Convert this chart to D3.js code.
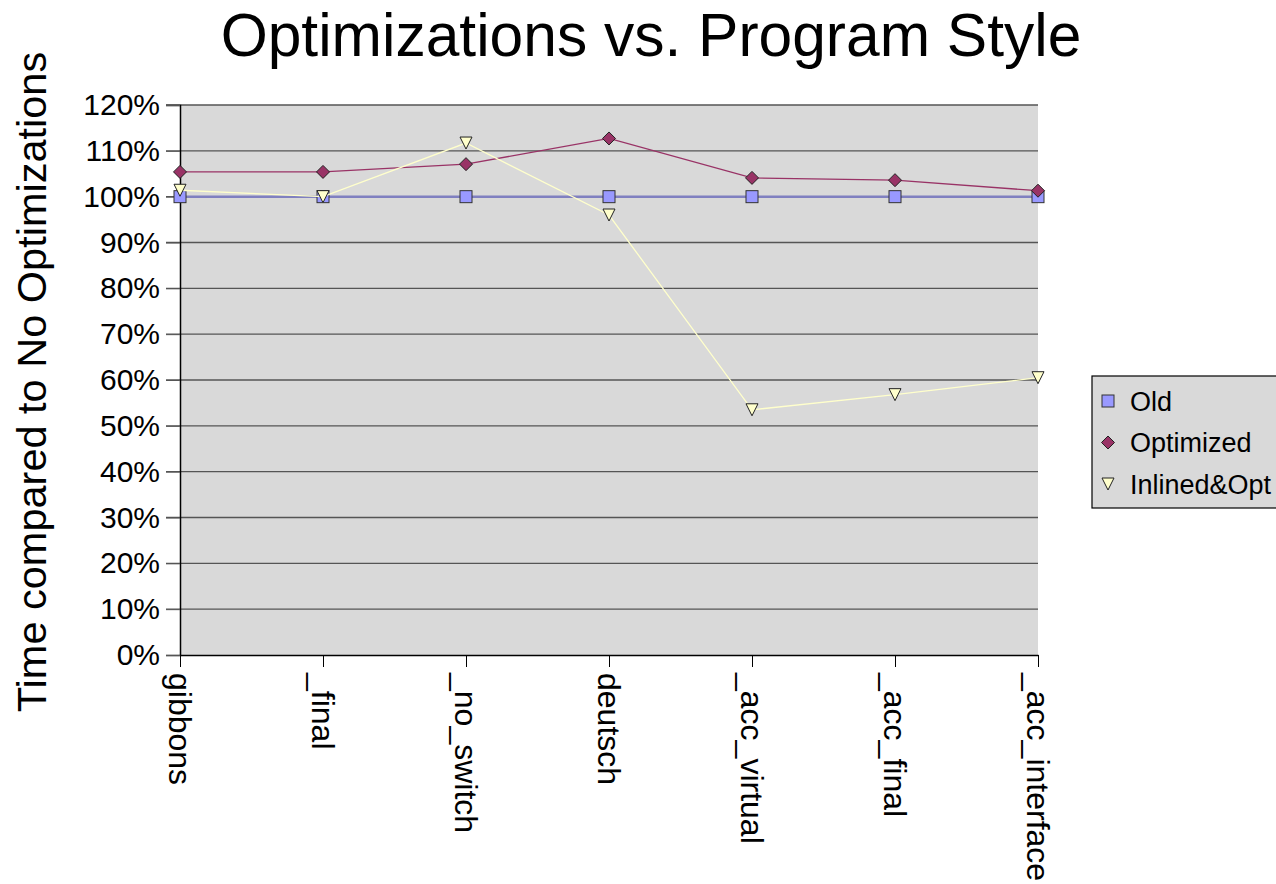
<!DOCTYPE html>
<html><head><meta charset="utf-8">
<script src="https://cdn.jsdelivr.net/npm/d3@7"></script>
<style>body{margin:0;background:#fff}svg{display:block}text{font-family:"Liberation Sans",Arial,sans-serif}</style>
</head><body>
<script>
const categories = ["gibbons","_final","_no_switch","deutsch","_acc_virtual","_acc_final","_acc_interface"];
const oldVals = [100,100,100,100,100,100,100];
const optimizedVals = [105.4,105.4,107.1,112.7,104.1,103.6,101.3];
const inlinedVals = [101.4,100.0,111.7,96.0,53.5,56.8,60.5];
const yTicks = [0,10,20,30,40,50,60,70,80,90,100,110,120];
const seriesNames = ["Old","Optimized","Inlined&Opt"];

const W=1276,H=884;
const svg=d3.select("body").append("svg").attr("width",W).attr("height",H);
const x=d3.scalePoint().domain(categories).range([180,1038]);
const y=d3.scaleLinear().domain([0,120]).range([655,105]);

svg.append("rect").attr("x",180).attr("y",105).attr("width",858).attr("height",550).attr("fill","#d9d9d9");
svg.selectAll(".grid").data(yTicks.filter(d=>d>0)).enter().append("line")
  .attr("x1",166).attr("x2",1038).attr("y1",d=>y(d)).attr("y2",d=>y(d))
  .attr("stroke","#555").attr("stroke-width",1.3);

const yAxis=svg.append("g").attr("transform","translate(180,0)")
  .call(d3.axisLeft(y).tickValues(yTicks).tickFormat(d=>d+"%").tickSize(14).tickPadding(6));
yAxis.select(".domain").attr("stroke","#000").attr("stroke-width",1.5);
yAxis.selectAll("text").attr("font-size",30).attr("fill","#000").attr("font-family","Liberation Sans, Arial, sans-serif");
yAxis.selectAll("line").attr("stroke","#555");

const xAxis=svg.append("g").attr("transform","translate(0,655)")
  .call(d3.axisBottom(x).tickSize(12).tickSizeOuter(0));
xAxis.select(".domain").attr("stroke","#000").attr("stroke-width",1.5);
xAxis.selectAll("line").attr("stroke","#000");
xAxis.selectAll("text").attr("font-size",32).attr("fill","#000")
  .attr("font-family","Liberation Sans, Arial, sans-serif")
  .attr("transform","rotate(90)").attr("text-anchor","start")
  .attr("x",18).attr("y",0).attr("dy","0.35em");

const series=[
 {name:seriesNames[0],vals:oldVals,line:"#8080c0",fill:"#9999ff",w:2.5,shape:"sq"},
 {name:seriesNames[1],vals:optimizedVals,line:"#993366",fill:"#993366",w:1.3,shape:"di"},
 {name:seriesNames[2],vals:inlinedVals,line:"#ffffcc",fill:"#ffffcc",w:1.3,shape:"tri"}
];
function marker(g,shape,fill,cx,cy){
  if(shape==="sq") g.append("rect").attr("x",cx-6).attr("y",cy-6).attr("width",12).attr("height",12).attr("fill",fill).attr("stroke","#333").attr("stroke-width",1);
  else if(shape==="di") g.append("path").attr("d",`M${cx},${cy-6.5}L${cx+6.5},${cy}L${cx},${cy+6.5}L${cx-6.5},${cy}Z`).attr("fill",fill).attr("stroke","#222").attr("stroke-width",1);
  else g.append("path").attr("d",`M${cx-6},${cy-6}L${cx+6},${cy-6}L${cx},${cy+6}Z`).attr("fill",fill).attr("stroke","#222").attr("stroke-width",1);
}
const line=d3.line().x((d,i)=>x(categories[i])).y(d=>y(d));
series.forEach(s=>{
  svg.append("path").attr("d",line(s.vals)).attr("fill","none").attr("stroke",s.line).attr("stroke-width",s.w);
  const g=svg.append("g");
  s.vals.forEach((v,i)=>marker(g,s.shape,s.fill,x(categories[i]),y(v)));
});

svg.append("text").attr("x",651).attr("y",56).attr("text-anchor","middle").attr("font-size",60.5).text("Optimizations vs. Program Style");
svg.append("text").attr("transform","translate(46,382) rotate(-90)").attr("text-anchor","middle").attr("font-size",41.5).text("Time compared to No Optimizations");

const lg=svg.append("g");
lg.append("rect").attr("x",1092).attr("y",376).attr("width",200).attr("height",132).attr("fill","#d9d9d9").attr("stroke","#000").attr("stroke-width",1.2);
series.forEach((s,i)=>{
  const cy=401+i*41.5;
  marker(lg,s.shape,s.fill,1108,cy);
  lg.append("text").attr("x",1130).attr("y",cy).attr("dy","0.36em").attr("font-size",27).text(s.name);
});
</script>
</body></html>
